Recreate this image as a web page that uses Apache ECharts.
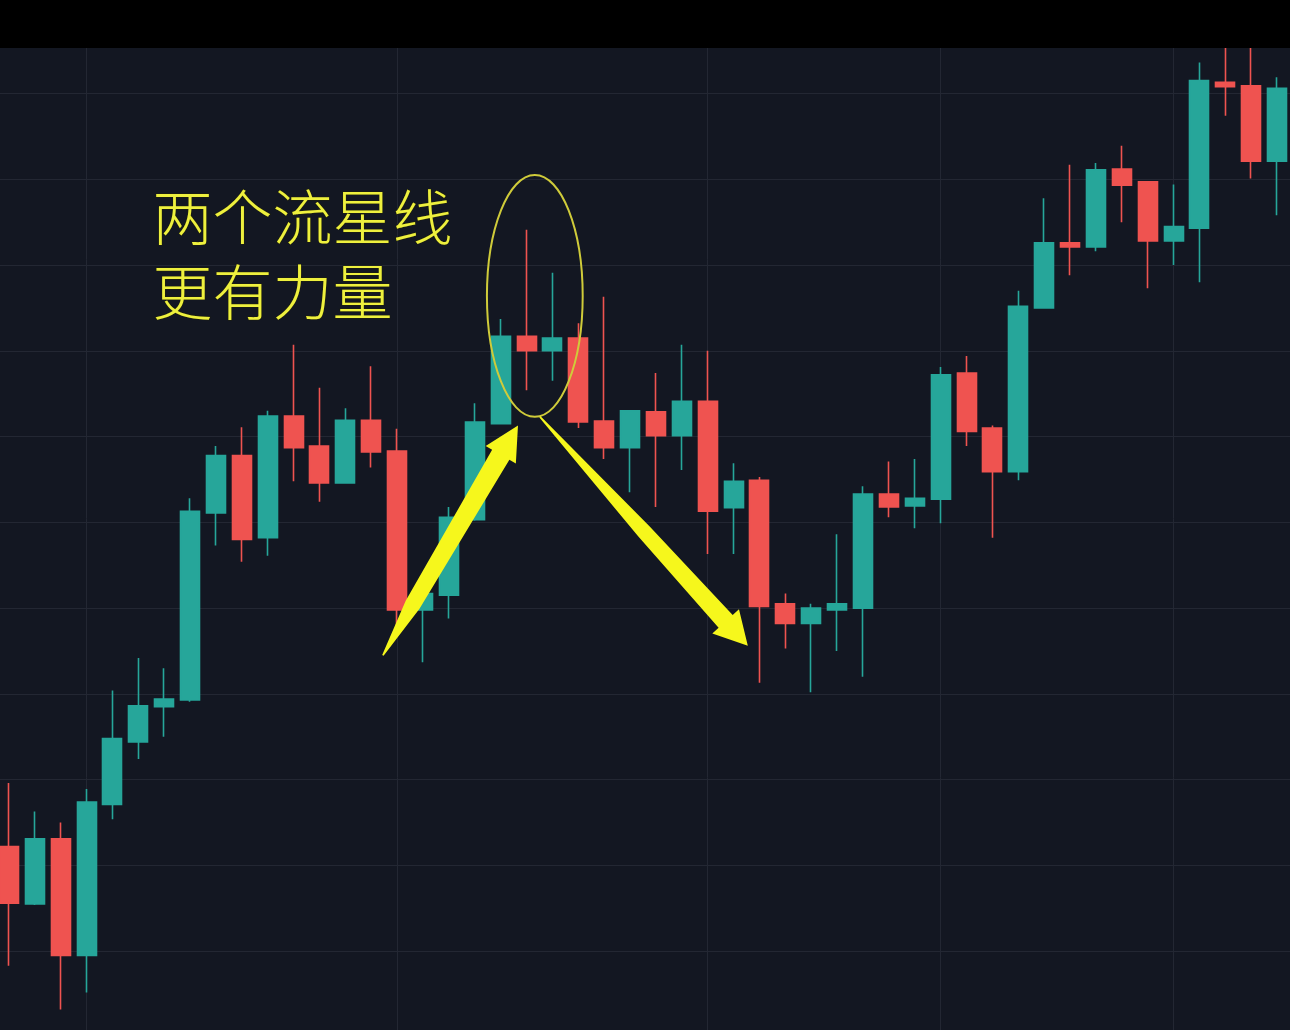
<!DOCTYPE html>
<html lang="zh">

<head>
    <meta charset="UTF-8">
    <title>两个流星线</title>
    <style>
        html, body { margin: 0; padding: 0; background: #000; overflow: hidden; width: 1290px; height: 1030px; }
        /* the chart runs a little past the window on the left, right and bottom edges */
        #KChart { position: absolute; left: -17px; top: 0; width: 1320px; height: 1037px; }
    </style>
</head>

<body>
    <div id="KChart"></div>
    <script src="https://cdn.jsdelivr.net/npm/echarts@6/dist/echarts.min.js"></script>
    <script>
        // candle index labels (time axis is hidden in the picture)
        var categories = []
        for (var k = 0; k < 50; k++) categories.push(String(k))

        var opens = [22.2, 15.5, 23.1, 9.5, 27.1, 34.4, 38.5, 39.3, 61.1, 67.8,
            58.2, 72.4, 68.9, 64.6, 71.9, 68.3, 49.8, 51.5, 60.3, 71.5,
            81.7, 80.0, 81.5, 71.8, 68.7, 72.9, 70.1, 74.1, 61.7, 64.9,
            50.5, 48.2, 49.8, 50.0, 63.3, 61.9, 62.7, 77.4, 71.0, 65.9,
            85.0, 92.6, 92.1, 101.2, 99.7, 92.8, 94.3, 111.3, 110.9, 102.1]
        var closes = [15.6, 23.1, 9.5, 27.4, 34.8, 38.6, 39.4, 61.3, 67.8, 58.0,
            72.4, 68.7, 64.6, 71.9, 68.2, 49.8, 51.7, 60.6, 71.7, 81.7,
            80.0, 81.5, 71.7, 68.7, 73.0, 70.1, 74.1, 61.3, 64.8, 50.2,
            48.2, 50.0, 50.5, 63.3, 61.8, 62.8, 77.2, 70.6, 65.9, 85.2,
            92.6, 92.1, 101.1, 99.3, 92.8, 94.5, 111.5, 110.8, 102.1, 110.6]
        var lows = [8.3, 15.4, 3.2, 5.2, 25.4, 32.4, 35.0, 39.1, 57.3, 55.4,
            56.1, 64.8, 62.4, 64.5, 66.4, 46.9, 43.7, 48.8, 60.2, 71.4,
            75.4, 76.5, 71.0, 67.4, 63.5, 61.8, 66.1, 56.3, 56.3, 41.3,
            45.3, 40.2, 45.0, 42.0, 60.6, 59.3, 59.9, 68.9, 58.2, 64.9,
            84.9, 88.8, 91.6, 95.0, 87.3, 90.0, 88.0, 107.4, 100.1, 95.8]
        var highs = [29.6, 26.3, 25.0, 28.9, 40.4, 44.2, 43.0, 62.8, 68.9, 71.1,
            73.0, 80.7, 75.7, 73.3, 78.2, 70.9, 51.8, 61.8, 73.9, 83.7,
            94.1, 89.1, 83.2, 86.3, 73.1, 77.4, 80.7, 80.0, 66.9, 65.3,
            51.7, 50.5, 58.6, 64.2, 67.1, 67.4, 78.1, 79.4, 71.3, 87.0,
            97.8, 101.7, 101.9, 103.9, 99.8, 99.4, 113.6, 118.6, 118.0, 111.9]

        // candles that carry a vertical time grid line
        var timeLines = [3, 15, 27, 36, 45]

        // annotations, in [candle index, price]
        var upArrow = [[14.45, 44.5], [19.67, 71.3]]
        var downArrow = [[20.52, 72.3], [28.55, 45.6]]
        var circleCenter = [20.32, 86.4]
        var circleRadius = [1.85, 14.1]
        var note = ['两个流星线', '更有力量']

        var UP = '#26a69a', DOWN = '#ef5350'

        var KChart = echarts.init(document.getElementById('KChart'))

        // one empty slot on each side so the grid runs past the window edges
        var axisData = [''].concat(categories, [''])
        var kData = ['-'].concat(opens.map(function (o, i) {
            return [o, closes[i], lows[i], highs[i]]
        }), ['-'])

        var option = {
            backgroundColor: '#131722',
            animation: false,
            grid: { left: 0, right: 0, top: 0, bottom: 0 },
            xAxis: {
                type: 'category',
                data: axisData,
                boundaryGap: false,
                axisLine: { show: false },
                axisTick: { show: false },
                axisLabel: { show: false },
                splitLine: {
                    show: true,
                    interval: function (index) { return timeLines.indexOf(index - 1) >= 0 },
                    lineStyle: { color: '#232733', width: 1 }
                }
            },
            yAxis: {
                type: 'value',
                min: 0,
                max: 120.9,
                interval: 10,
                axisLine: { show: false },
                axisTick: { show: false },
                axisLabel: { show: false },
                splitLine: { lineStyle: { color: '#232733', width: 1 } }
            },
            series: [{
                type: 'candlestick',
                data: kData,
                barWidth: 19.5,
                clip: false,
                itemStyle: {
                    color: UP,
                    color0: DOWN,
                    borderColor: UP,
                    borderColor0: DOWN,
                    borderWidth: 1.6
                }
            }]
        }
        KChart.setOption(option)

        // [candle index, price] -> pixel (index 0 is the first real candle)
        function toPx(p) {
            var a = KChart.convertToPixel({ gridIndex: 0 }, [1, 0])
            var b = KChart.convertToPixel({ gridIndex: 0 }, [2, 10])
            return [a[0] + p[0] * (b[0] - a[0]), a[1] + p[1] * (b[1] - a[1]) / 10]
        }

        // tapered arrow: pointed tail, shoulder, neck, triangular head
        function arrowPoints(tail, tip, headLen, headHalf, neckHalf, shoulderAt, shoulderHalf) {
            var t = toPx(tail), p = toPx(tip)
            var dx = p[0] - t[0], dy = p[1] - t[1]
            var len = Math.sqrt(dx * dx + dy * dy)
            var ux = dx / len, uy = dy / len
            var nx = -uy, ny = ux
            var n = [p[0] - ux * headLen, p[1] - uy * headLen]
            var s = [t[0] + ux * len * shoulderAt, t[1] + uy * len * shoulderAt]
            return [
                [t[0] + nx * 0.8, t[1] + ny * 0.8],
                [s[0] + nx * shoulderHalf, s[1] + ny * shoulderHalf],
                [n[0] + nx * neckHalf, n[1] + ny * neckHalf],
                [n[0] + nx * headHalf, n[1] + ny * headHalf],
                p,
                [n[0] - nx * headHalf, n[1] - ny * headHalf],
                [n[0] - nx * neckHalf, n[1] - ny * neckHalf],
                [s[0] - nx * shoulderHalf, s[1] - ny * shoulderHalf],
                [t[0] - nx * 0.8, t[1] - ny * 0.8]
            ]
        }

        var c = toPx(circleCenter)
        var r0 = toPx([0, 0]), r1 = toPx(circleRadius)

        KChart.setOption({
            graphic: [
                {
                    type: 'ellipse',
                    z: 50,
                    shape: { cx: c[0], cy: c[1], rx: r1[0] - r0[0], ry: r0[1] - r1[1] },
                    style: { fill: 'none', stroke: '#cfcb3a', lineWidth: 2 }
                },
                {
                    type: 'polygon',
                    z: 51,
                    shape: { points: arrowPoints(upArrow[0], upArrow[1], 34, 17.5, 10, 0.22, 8) },
                    style: { fill: '#f6f71c' }
                },
                {
                    type: 'polygon',
                    z: 51,
                    shape: { points: arrowPoints(downArrow[0], downArrow[1], 33, 18, 9.5, 0.5, 7.5) },
                    style: { fill: '#f6f71c' }
                },
                {
                    type: 'text',
                    z: 52,
                    left: 169,
                    top: 180,
                    style: {
                        text: note.join('\n'),
                        font: '300 60px "Noto Sans CJK SC"',
                        lineHeight: 75,
                        fill: '#eef03e',
                        stroke: '#20220a',
                        lineWidth: 1
                    }
                },
                {
                    // black strip above the chart
                    type: 'rect',
                    z: 100,
                    shape: { x: 0, y: 0, width: 1320, height: 48 },
                    style: { fill: '#000' }
                }
            ]
        })
    </script>
</body>

</html>
